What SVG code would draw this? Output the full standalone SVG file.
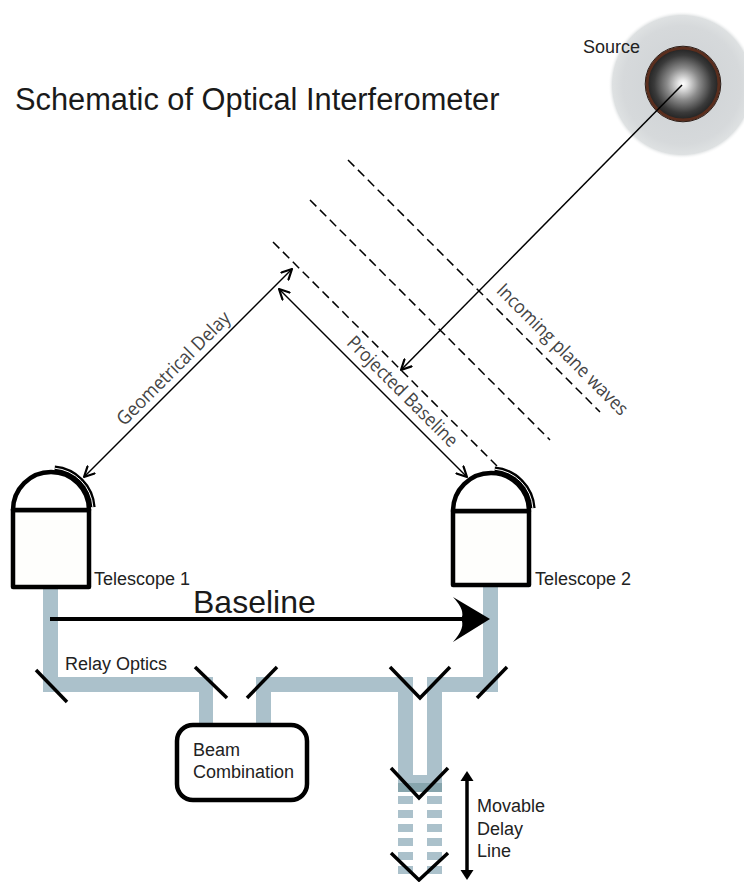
<svg xmlns="http://www.w3.org/2000/svg" width="744" height="882" viewBox="0 0 744 882">
  <defs>
    <radialGradient id="halo" cx="0.5" cy="0.5" r="0.5">
      <stop offset="0" stop-color="#cdd1d4"/>
      <stop offset="0.8" stop-color="#d6d9db"/>
      <stop offset="0.94" stop-color="#dee1e2"/>
      <stop offset="1" stop-color="#ffffff" stop-opacity="0"/>
    </radialGradient>
    <radialGradient id="sphere" cx="0.5" cy="0.5" r="0.5">
      <stop offset="0" stop-color="#ffffff"/>
      <stop offset="0.12" stop-color="#e8e8e8"/>
      <stop offset="0.45" stop-color="#8a8a8a"/>
      <stop offset="0.8" stop-color="#3a3a3a"/>
      <stop offset="1" stop-color="#222222"/>
    </radialGradient>
    <marker id="open" viewBox="0 0 12 12" refX="11" refY="6" markerWidth="12" markerHeight="12" markerUnits="userSpaceOnUse" orient="auto-start-reverse">
      <path d="M1,1 L11,6 L1,11" fill="none" stroke="#000" stroke-width="2.2" stroke-linecap="round" stroke-linejoin="round"/>
    </marker>
    <style>
      .lbl { font-family: "Liberation Sans", Arial, sans-serif; font-size: 18px; fill: #222; }
      .rot { font-family: "Open Sans", "Noto Sans", sans-serif; font-size: 19px; fill: #444; }
      .thin { stroke: #000; stroke-width: 1.5; fill: none; }
      .wave { stroke: #000; stroke-width: 1.5; fill: none; stroke-dasharray: 9 5; }
      .pipe { fill: #abc1cb; }
      .mirror { stroke: #000; stroke-width: 3.5; fill: none; stroke-linecap: butt; }
      .scope { stroke: #000; stroke-width: 4.5; stroke-linejoin: round; }
    </style>
  </defs>

  <rect width="744" height="882" fill="#ffffff"/>

  <!-- title -->
  <text x="15" y="110" font-family="Liberation Sans, Arial, sans-serif" font-size="30.8" fill="#1a1a1a">Schematic of Optical Interferometer</text>

  <!-- star source -->
  <g id="source">
    <circle cx="682" cy="85" r="74" fill="url(#halo)"/>
    <circle cx="683" cy="84" r="36" fill="url(#sphere)" stroke="#5a2e1e" stroke-width="3"/>
    <circle cx="683" cy="84" r="37.8" fill="none" stroke="#2a1a14" stroke-width="1"/>
    <text class="lbl" x="583" y="53">Source</text>
  </g>

  <!-- wavefronts -->
  <g id="wavefronts">
    <line class="wave" x1="273" y1="242" x2="497" y2="466"/>
    <line class="wave" x1="310" y1="200" x2="550" y2="440"/>
    <line class="wave" x1="348" y1="160" x2="600" y2="412"/>
    <text class="rot" transform="translate(558,354) rotate(45)" text-anchor="middle" textLength="177" lengthAdjust="spacingAndGlyphs">Incoming plane waves</text>
  </g>

  <!-- relay optics beam paths -->
  <g id="relay-optics">
    <rect class="pipe" x="43" y="587" width="15" height="105"/>
    <rect class="pipe" x="43" y="677" width="170" height="15"/>
    <rect class="pipe" x="199" y="677" width="14" height="48"/>
    <rect class="pipe" x="256" y="677" width="15" height="48"/>
    <rect class="pipe" x="256" y="677" width="157" height="15"/>
    <rect class="pipe" x="427" y="677" width="71" height="15"/>
    <rect class="pipe" x="483" y="585" width="15" height="107"/>
    <line class="mirror" x1="36" y1="670" x2="67" y2="702"/>
    <line class="mirror" x1="195" y1="667" x2="227" y2="698"/>
    <line class="mirror" x1="277" y1="667" x2="247" y2="698"/>
    <line class="mirror" x1="507" y1="667" x2="477" y2="698"/>
    <text class="lbl" x="65" y="670">Relay Optics</text>
  </g>

  <!-- delay line -->
  <g id="delay-line">
    <rect class="pipe" x="398" y="677" width="15" height="115"/>
    <rect class="pipe" x="427" y="677" width="15" height="115"/>
    <rect class="pipe" x="398" y="775" width="44" height="17"/>
    <rect x="398" y="783" width="44" height="9" fill="#87a5ad"/>
    <line x1="405.5" y1="796" x2="405.5" y2="880" stroke="#abc1cb" stroke-width="15" stroke-dasharray="8 6"/>
    <line x1="434.5" y1="796" x2="434.5" y2="880" stroke="#abc1cb" stroke-width="15" stroke-dasharray="8 6"/>
    <polyline class="mirror" points="390,667 420,698 450,667"/>
    <polyline class="mirror" points="391,768 419,798 448,768"/>
    <polyline class="mirror" points="391,853 419,880 448,853"/>
    <line x1="467" y1="778" x2="467" y2="873" stroke="#000" stroke-width="3.5"/>
    <polygon points="467,771 460.5,781 473.5,781" fill="#000"/>
    <polygon points="467,880 460.5,870 473.5,870" fill="#000"/>
    <text class="lbl" x="477" y="812">Movable</text>
    <text class="lbl" x="477" y="835">Delay</text>
    <text class="lbl" x="477" y="857">Line</text>
  </g>

  <!-- beam combiner -->
  <g id="beam-combination">
    <rect x="177" y="725" width="130" height="75" rx="16" fill="#ffffff" stroke="#000" stroke-width="4.5"/>
    <text class="lbl" x="193" y="756">Beam</text>
    <text class="lbl" x="193" y="778">Combination</text>
  </g>

  <!-- telescopes -->
  <g id="telescope-1">
    <rect class="scope" x="13" y="510" width="76" height="77" fill="#fefefc"/>
    <path class="scope" d="M13,510 A38,38 0 0 1 89,510 Z" fill="#ffffff"/>
    <path d="M54.7,468.2 A42,42 0 0 1 92.9,507.1" fill="none" stroke="#000" stroke-width="5.5"/>
    <path d="M54.7,468.2 A42,42 0 0 1 92.9,507.1" fill="none" stroke="#ffffff" stroke-width="1"/>
    <text class="lbl" x="94" y="585">Telescope 1</text>
  </g>
  <g id="telescope-2">
    <rect class="scope" x="453" y="511" width="76" height="74" fill="#fefefc"/>
    <path class="scope" d="M453,511 A38,38 0 0 1 529,511 Z" fill="#ffffff"/>
    <path d="M494.7,469.2 A42,42 0 0 1 532.9,508.1" fill="none" stroke="#000" stroke-width="5.5"/>
    <path d="M494.7,469.2 A42,42 0 0 1 532.9,508.1" fill="none" stroke="#ffffff" stroke-width="1"/>
    <text class="lbl" x="535" y="585">Telescope 2</text>
  </g>

  <!-- connectors -->
  <g id="connectors">
    <line class="thin" x1="682" y1="85" x2="401" y2="370" marker-end="url(#open)"/>
    <line class="thin" x1="84" y1="477" x2="292" y2="269" marker-start="url(#open)" marker-end="url(#open)"/>
    <line class="thin" x1="279" y1="289" x2="467" y2="477" marker-start="url(#open)" marker-end="url(#open)"/>
    <line x1="50" y1="619" x2="463" y2="619" stroke="#000" stroke-width="4"/>
    <path d="M490,619 L453,597 Q466,611 461,619 Q466,627 453,642 Z" fill="#000"/>
  </g>

  <!-- connector labels -->
  <g id="labels">
    <text class="rot" transform="translate(178,373) rotate(-45)" text-anchor="middle" textLength="152" lengthAdjust="spacingAndGlyphs">Geometrical Delay</text>
    <text class="rot" transform="translate(398,396) rotate(45)" text-anchor="middle" textLength="148" lengthAdjust="spacingAndGlyphs">Projected Baseline</text>
    <text x="193" y="613" font-family="Liberation Sans, Arial, sans-serif" font-size="32" fill="#1a1a1a">Baseline</text>
  </g>
</svg>
